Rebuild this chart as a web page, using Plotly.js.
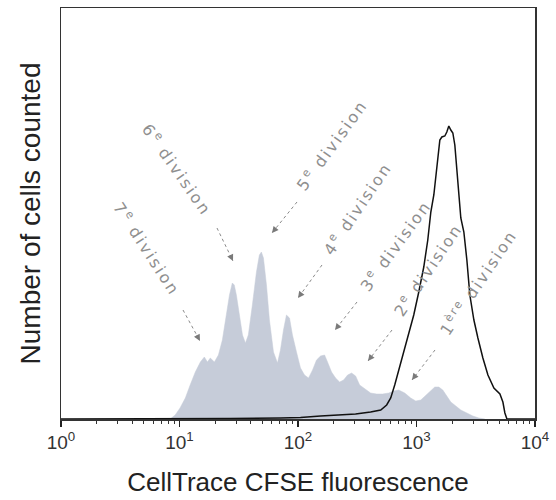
<!DOCTYPE html>
<html>
<head>
<meta charset="utf-8">
<script src="https://cdn.plot.ly/plotly-3.0.1.min.js"></script>
<style>
  html, body { margin: 0; padding: 0; background: #fff; }
  #chart { width: 556px; height: 500px; }
  .annotation-text { letter-spacing: 2.2px; }
</style>
</head>
<body>
<div id="chart"></div>
<script>
// Divided cells (filled histogram): CFSE fluorescence and counts
const dividedX = [8.35,9.2,10.1,11.2,12.3,13.6,15.0,16.2,17.2,18.2,19.7,21.3,23.0,24.9,26.4,27.9,29.0,30.2,32.0,34.0,36.0,38.1,41.2,44.6,47.2,49.1,51.1,54.2,57.4,62.1,67.1,71.1,75.4,79.9,84.8,89.8,97.1,105,113.5,122.7,132.7,143.3,155,167.6,177.5,192,207.6,224.4,242.6,262.2,283.4,306.4,331.3,365,410,461,518,583,642,708,796,894,986,1087,1198,1321,1427,1543,1667,1802,1948,2147,2366,2661,2992,3360,3778];
const dividedCount = [0,4,11,21,34,47,57,62,57,61,57,64,79,104,124,136,134,124,104,84,76,84,114,147,164,167,161,134,99,67,56,69,89,104,101,84,67,51,44,41,49,59,63,64,57,47,41,37,39,44,46,43,34,30,26,25,25,26,28,29,26,21,18,19,24,29,32,32,29,23,17,13,9,6,3,1,0];

// Undivided control (black outline histogram)
const controlX = [1,8.35,26.9,71.1,105,155,229,306,410,499,560,606,655,708,780,860,948,1045,1152,1245,1321,1400,1456,1514,1574,1637,1734,1802,1874,1948,2026,2106,2190,2277,2366,2510,2661,2820,3050,3297,3633,4006,4500,5057,5358,5571,5795,10000];
const controlCount = [0,0,0.5,1,1.5,3,4,5,7,9,14,21,34,49,67,84,104,127,152,179,207,224,244,259,279,282,283,287,293,289,286,274,249,219,201,187,159,124,99,81,61,44,31,25,17,6,0,0];

// Axis ticks and labels
const tickValues = [1,10,100,1000,10000];
const tickLabels = ['10<sup>0</sup>','10<sup>1</sup>','10<sup>2</sup>','10<sup>3</sup>','10<sup>4</sup>'];
const xTitle = 'CellTrace CFSE fluorescence';
const yTitle = 'Number of cells counted';

// Division labels
const divisionLabels = ['7<sup>e</sup> division','6<sup>e</sup> division','5<sup>e</sup> division','4<sup>e</sup> division','3<sup>e</sup> division','2<sup>e</sup> division','1<sup>ère</sup> division'];

// Layout (positions in paper fractions) for labels and arrows
const labelLayout = [
  {pos:[0.181,0.414], angle:57, tail:[0.2574,0.2652], head:[0.2932,0.1898]},
  {pos:[0.245,0.606], angle:55, tail:[0.3291,0.4647], head:[0.3629,0.3844]},
  {pos:[0.572,0.667], angle:-54, tail:[0.4979,0.5280], head:[0.4451,0.4526]},
  {pos:[0.624,0.513], angle:-56, tail:[0.5506,0.3747], head:[0.5000,0.2944]},
  {pos:[0.705,0.423], angle:-54, tail:[0.6245,0.2847], head:[0.5781,0.2165]},
  {pos:[0.774,0.363], angle:-56, tail:[0.6983,0.2165], head:[0.6477,0.1411]},
  {pos:[0.880,0.331], angle:-56, tail:[0.7890,0.1679], head:[0.7405,0.0949]}
];

const plotW = 474, plotH = 411;
const minorVals = [];
for (let d = 0; d < 4; d++) for (let k = 2; k <= 9; k++) minorVals.push(k * Math.pow(10, d));

const shapes = [];
const annotations = [];
divisionLabels.forEach((txt, i) => {
  const L = labelLayout[i];
  annotations.push({
    xref:'paper', yref:'paper', x:L.pos[0], y:L.pos[1], text:txt, showarrow:false,
    textangle:L.angle, xanchor:'center', yanchor:'middle',
    font:{family:'DejaVu Sans, Liberation Sans, Arial', size:16, color:'#8f8f8f'}
  });
  shapes.push({
    type:'line', xref:'paper', yref:'paper',
    x0:L.tail[0], y0:L.tail[1], x1:L.head[0], y1:L.head[1],
    line:{color:'#8a8a8a', width:1, dash:'dot'}
  });
  const dx = (L.tail[0]-L.head[0])*plotW, dy = -(L.tail[1]-L.head[1])*plotH;
  const len = Math.sqrt(dx*dx+dy*dy);
  annotations.push({
    xref:'paper', yref:'paper', x:L.head[0], y:L.head[1], text:'', showarrow:true,
    axref:'pixel', ayref:'pixel', ax:dx/len*8, ay:dy/len*8,
    arrowhead:2, arrowsize:1.3, arrowwidth:1, arrowcolor:'#7a7a7a'
  });
});

const traces = [
  {x:dividedX, y:dividedCount, type:'scatter', mode:'lines', fill:'tozeroy',
   fillcolor:'#c6ccd9', line:{color:'#c6ccd9', width:0.5}, hoverinfo:'skip'},
  {x:controlX, y:controlCount, type:'scatter', mode:'lines',
   line:{color:'#111111', width:1.5}, hoverinfo:'skip'}
];

const layout = {
  width:556, height:500,
  margin:{l:61, r:21, t:8, b:81},
  paper_bgcolor:'#ffffff', plot_bgcolor:'#ffffff',
  showlegend:false,
  font:{family:'Liberation Sans, Arial, sans-serif', color:'#222'},
  xaxis:{
    type:'log', range:[0,4], tickmode:'array', tickvals:tickValues, ticktext:tickLabels,
    ticks:'outside', ticklen:6, tickwidth:1.2, tickcolor:'#222',
    minor:{tickmode:'array', tickvals:minorVals, ticks:'outside', ticklen:3, tickwidth:1, tickcolor:'#333', showgrid:false},
    showgrid:false, zeroline:false, showline:true, mirror:true, linecolor:'#333', linewidth:1.5,
    tickfont:{size:19, color:'#333'},
    title:{text:xTitle, font:{size:26, color:'#222'}, standoff:20}
  },
  yaxis:{
    range:[0,411], showticklabels:false, ticks:'', showgrid:false, zeroline:false,
    showline:true, mirror:true, linecolor:'#333', linewidth:1.5,
    title:{text:yTitle, font:{size:28, color:'#222'}, standoff:10}
  },
  shapes:shapes,
  annotations:annotations
};

Plotly.newPlot('chart', traces, layout, {displayModeBar:false, staticPlot:true});
</script>
</body>
</html>
